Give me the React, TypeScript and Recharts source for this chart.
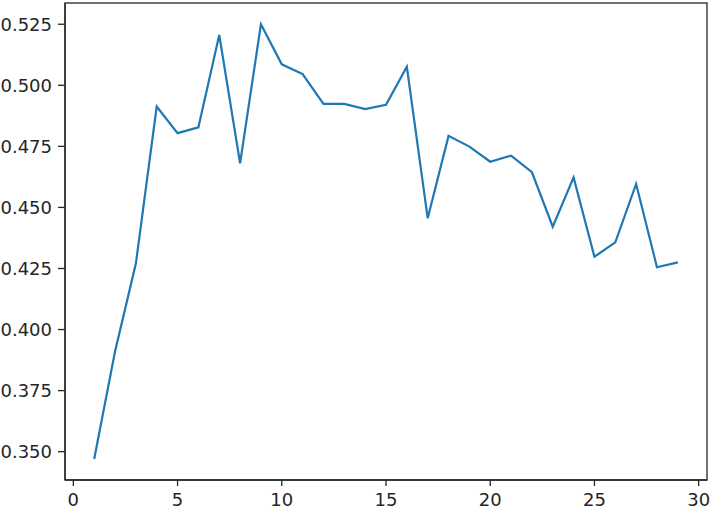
import React from 'react';
import { Line, LineChart, XAxis, YAxis, usePlotArea } from 'recharts';

const epochs = [1, 2, 3, 4, 5, 6, 7, 8, 9, 10, 11, 12, 13, 14, 15, 16, 17, 18, 19, 20, 21, 22, 23, 24, 25, 26, 27, 28, 29];
const scores = [
	0.347, 0.391, 0.427, 0.4913, 0.4804, 0.4828, 0.5206, 0.4681, 0.525, 0.5086,
	0.5046, 0.4924, 0.4924, 0.4903, 0.492, 0.5076, 0.4456, 0.4793, 0.4749, 0.4687,
	0.4712, 0.4644, 0.4421, 0.4623, 0.4298, 0.4357, 0.4596, 0.4255, 0.4275,
];
const xTicks = [0, 5, 10, 15, 20, 25, 30];
const yTicks = [0.35, 0.375, 0.4, 0.425, 0.45, 0.475, 0.5, 0.525];
const xDomain: [number, number] = [-0.4, 30.4];
const yDomain: [number, number] = [0.3384, 0.5337];

const data = epochs.map((e, i) => ({ epoch: e, score: scores[i] }));

const INK = '#262626';
const FONT = 'DejaVu Sans, sans-serif';

const YTick = (props: any) => {
	const { x, y, payload } = props;
	return (
		<text x={x} y={y} dx={-6} textAnchor="end" dy="0.36em" fontSize={18} fontFamily={FONT} fill={INK}>
			{Number(payload.value).toFixed(3)}
		</text>
	);
};

const XTick = (props: any) => {
	const { x, y, payload } = props;
	return (
		<text x={x} y={y} textAnchor="middle" dy={20} fontSize={18} fontFamily={FONT} fill={INK}>
			{payload.value}
		</text>
	);
};

// box round the plot, like matplotlib spines
const Frame = () => {
	const area = usePlotArea();
	if (!area) return null;
	return (
		<rect x={area.x} y={area.y} width={area.width} height={area.height} fill="none" stroke={INK} strokeWidth={1.3} />
	);
};

export default function App() {
	return (
		<div style={{ position: 'fixed', left: 0, top: 0, width: 712, height: 511, background: '#fff', overflow: 'hidden' }}>
			<LineChart width={712} height={511} data={data} margin={{ top: 3, right: 5, bottom: 0, left: 0 }}>
				<XAxis
					dataKey="epoch"
					type="number"
					domain={xDomain}
					ticks={xTicks}
					height={31}
					tickSize={6}
					tickMargin={0}
					tick={<XTick />}
					axisLine={{ stroke: INK, strokeWidth: 1.3 }}
					tickLine={{ stroke: INK, strokeWidth: 1.3 }}
				/>
				<YAxis
					type="number"
					domain={yDomain}
					ticks={yTicks}
					width={65}
					tickSize={7}
					tickMargin={0}
					tick={<YTick />}
					axisLine={{ stroke: INK, strokeWidth: 1.3 }}
					tickLine={{ stroke: INK, strokeWidth: 1.3 }}
				/>
				<Frame />
				<Line
					type="linear"
					dataKey="score"
					stroke="#1f77b4"
					strokeWidth={2.2}
					dot={false}
					activeDot={false}
					isAnimationActive={false}
				/>
			</LineChart>
		</div>
	);
}
